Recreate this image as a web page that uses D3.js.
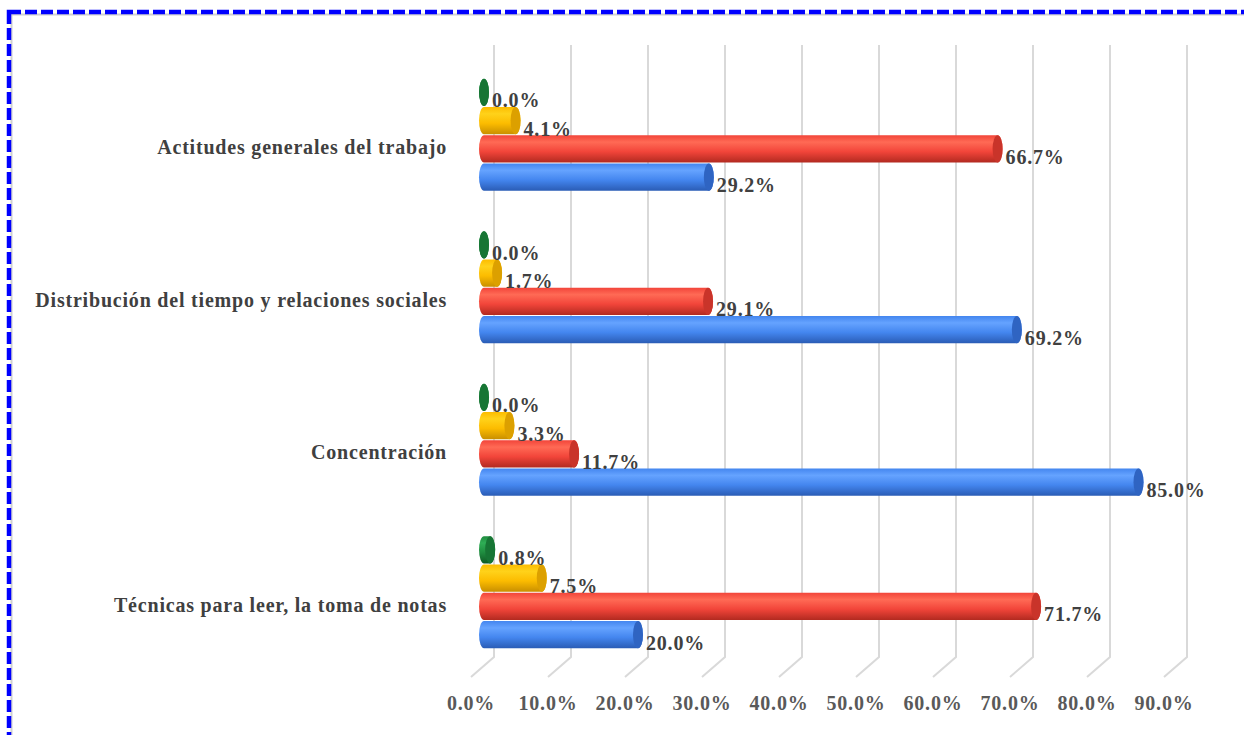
<!DOCTYPE html>
<html>
<head>
<meta charset="utf-8">
<script src="https://d3js.org/d3.v7.min.js"></script>
<style>
  html, body { margin: 0; padding: 0; background: #fff; }
  svg { display: block; font-family: "Liberation Serif", "Times New Roman", serif; }
</style>
</head>
<body>
<svg id="chart" width="1244" height="735"></svg>
<script>
// --- data (categories listed top to bottom) ---
const categories = [
  "Actitudes generales del trabajo",
  "Distribución del tiempo y relaciones sociales",
  "Concentración",
  "Técnicas para leer, la toma de notas"
];
// series drawn top to bottom inside each group
const seriesNames = ["Serie 4", "Serie 3", "Serie 2", "Serie 1"];
const serie4 = [0.000, 0.000, 0.000, 0.008];   // green
const serie3 = [0.041, 0.017, 0.033, 0.075];   // yellow
const serie2 = [0.667, 0.291, 0.117, 0.717];   // red
const serie1 = [0.292, 0.692, 0.850, 0.200];   // blue
const seriesValues = [serie4, serie3, serie2, serie1];
const tickValues = [0, 0.1, 0.2, 0.3, 0.4, 0.5, 0.6, 0.7, 0.8, 0.9];

const palette = [
  { light: "#2fae55", mid: "#1f8c3f", dark: "#0f5a25", cap: "#177534" },
  { light: "#ffd21a", mid: "#fcbc00", dark: "#c98f00", cap: "#dca000" },
  { light: "#ff6a55", mid: "#f2453a", dark: "#b22a20", cap: "#c9342a" },
  { light: "#65a3ff", mid: "#4486ef", dark: "#2a5cb5", cap: "#2f64c2" }
];

const fontSize = 20;
const spacing = 0.8;

const svg = d3.select("#chart");
const defs = svg.append("defs");

// --- frame ---
svg.append("rect")
  .attr("x", 11.5).attr("y", 14.5).attr("width", 1250).attr("height", 740)
  .attr("fill", "none").attr("stroke", "#d0d0d0").attr("stroke-width", 2);
svg.append("rect")
  .attr("x", 9).attr("y", 12).attr("width", 1250).attr("height", 740)
  .attr("fill", "none").attr("stroke", "#0000ff").attr("stroke-width", 4.5)
  .attr("stroke-dasharray", "12,4");

// --- scales ---
const x = d3.scaleLinear().domain([0, 0.9]).range([494, 1187]);
const y = d3.scaleBand().domain(categories).range([45, 655]);
const ySub = d3.scaleBand().domain(seriesNames).range([-56, 56]).paddingInner(0.04);

const depth = { dx: -23, dy: 20 };
const barShift = { dx: -10, dy: 13.5 };
const floorY = 657;

// --- gridlines (3D walls) ---
const grid = svg.append("g").attr("fill", "none").attr("stroke", "#d9d9d9").attr("stroke-width", 2);
tickValues.forEach(t => {
  grid.append("path")
    .attr("d", `M${x(t)},45 V${floorY} l${depth.dx},${depth.dy}`);
});

// tick labels
svg.append("g")
  .selectAll("text")
  .data(tickValues)
  .join("text")
  .attr("x", d => x(d) + depth.dx)
  .attr("y", 703)
  .attr("text-anchor", "middle")
  .attr("dominant-baseline", "central")
  .attr("font-size", fontSize).attr("font-weight", "bold")
  .attr("letter-spacing", spacing)
  .attr("fill", "#595959")
  .text(d3.format(".1%"));

// category labels
svg.append("g")
  .selectAll("text")
  .data(categories)
  .join("text")
  .attr("x", 447)
  .attr("y", d => y(d) + y.bandwidth() / 2 + 26)
  .attr("text-anchor", "end")
  .attr("dominant-baseline", "central")
  .attr("font-size", fontSize).attr("font-weight", "bold")
  .attr("letter-spacing", spacing)
  .attr("fill", "#404040")
  .text(d => d);

// gradients
palette.forEach((p, i) => {
  const g = defs.append("linearGradient").attr("id", "grad" + i)
    .attr("x1", 0).attr("y1", 0).attr("x2", 0).attr("y2", 1);
  g.append("stop").attr("offset", "0%").attr("stop-color", p.mid);
  g.append("stop").attr("offset", "25%").attr("stop-color", p.light);
  g.append("stop").attr("offset", "60%").attr("stop-color", p.mid);
  g.append("stop").attr("offset", "100%").attr("stop-color", p.dark);
});

// --- cylinders ---
const rx = 5;
const bars = [];
categories.forEach((c, ci) => {
  seriesNames.forEach((s, si) => {
    const h = ySub.bandwidth();
    const cy = y(c) + y.bandwidth() / 2 + barShift.dy + ySub(s) + h / 2;
    bars.push({ cat: c, series: s, si, value: seriesValues[si][ci], cy, h });
  });
});

const barG = svg.append("g");
const labelG = svg.append("g");
bars.forEach(b => {
  const x0 = x(0) + barShift.dx;
  const x1 = x(b.value) + barShift.dx;
  const ry = b.h / 2;
  const cy = b.cy;
  const p = palette[b.si];
  const body = `M${x0},${cy - ry} L${x1},${cy - ry} A${rx},${ry} 0 0 1 ${x1},${cy + ry} L${x0},${cy + ry} A${rx},${ry} 0 0 1 ${x0},${cy - ry} Z`;
  barG.append("path").attr("d", body).attr("fill", `url(#grad${b.si})`);
  barG.append("ellipse")
    .attr("cx", x1).attr("cy", cy).attr("rx", rx).attr("ry", ry)
    .attr("fill", p.cap);
  labelG.append("text")
    .attr("x", x1 + rx + 3)
    .attr("y", cy + 8)
    .attr("dominant-baseline", "central")
    .attr("font-size", fontSize).attr("font-weight", "bold")
    .attr("letter-spacing", spacing)
    .attr("fill", "#404040")
    .text(d3.format(".1%")(b.value));
});
</script>
</body>
</html>
